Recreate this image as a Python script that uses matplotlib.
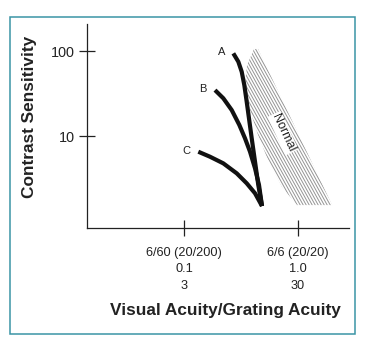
import numpy as np
import matplotlib
matplotlib.use('Agg')
import matplotlib.pyplot as plt
from matplotlib.patches import Polygon, Rectangle
from matplotlib.collections import LineCollection
from matplotlib.ticker import NullLocator
from matplotlib.transforms import IdentityTransform

plt.rcParams['font.family'] = ['Liberation Sans', 'DejaVu Sans']

# curves (acuity, contrast sensitivity)
acuity_a = [0.2707, 0.2995, 0.3207, 0.3380, 0.3548, 0.3716, 0.3925, 0.4196, 0.4484, 0.4832]
sens_a = [93.9, 74.9, 57.1, 39.8, 25.3, 16.1, 9.40, 4.99, 2.65, 1.50]
acuity_b = [0.1870, 0.2212, 0.2621, 0.3056, 0.3428, 0.3793, 0.4196, 0.4549, 0.4832]
sens_b = [34.7, 27.8, 20.2, 13.5, 9.40, 6.54, 4.17, 2.65, 1.50]
acuity_c = [0.1335, 0.1690, 0.2212, 0.2900, 0.3548, 0.4196, 0.4832]
sens_c = [6.54, 5.71, 4.77, 3.64, 2.78, 2.12, 1.50]

# shaded "normal" band
normal_acuity = [0.411, 0.446, 1.99, 0.98, 0.724, 0.546, 0.446, 0.379, 0.343, 0.357]
normal_sens = [105.7, 105.7, 1.54, 1.54, 2.51, 5.22, 10.3, 20.2, 39.8, 68.4]

xtick_vals = [0.1, 1.0]
xtick_labels = ['6/60 (20/200)\n0.1\n3', '6/6 (20/20)\n1.0\n30']
ytick_vals = [10, 100]
ytick_labels = ['10', '100']

fig = plt.figure(figsize=(3.68, 3.40), dpi=100)
ax = fig.add_axes([87/368, 112/340, 262/368, 204/340])
ax.set_xscale('log')
ax.set_yscale('log')
ax.set_xlim(0.0141, 2.80)
ax.set_ylim(0.828, 208)

ax.set_xticks(xtick_vals)
ax.set_xticklabels(xtick_labels, fontsize=9.2, linespacing=1.52)
ax.set_yticks(ytick_vals)
ax.set_yticklabels(ytick_labels, fontsize=10.4)
ax.xaxis.set_minor_locator(NullLocator())
ax.yaxis.set_minor_locator(NullLocator())
ax.tick_params(axis='x', direction='inout', length=12, width=0.9, pad=7.5, colors='#222')
ax.tick_params(axis='y', direction='inout', length=11.5, width=0.9, pad=3, colors='#222')
for s in ['top', 'right']:
    ax.spines[s].set_visible(False)
for s in ['left', 'bottom']:
    ax.spines[s].set_linewidth(0.9)
    ax.spines[s].set_color('#222')

# normal band with steep hatch lines
pts = np.column_stack([normal_acuity, normal_sens])
band = Polygon(pts, closed=True, fc='none', ec='none', transform=ax.transData)
ax.add_patch(band)
disp = ax.transData.transform(pts)
x0, y0 = disp.min(axis=0) - 5
x1, y1 = disp.max(axis=0) + 5
k = 1.8
segs = []
for xs in np.arange(x0 - (y1 - y0) / k, x1, 3.0):
    segs.append([(xs, y1), (xs + (y1 - y0) / k, y0)])
hatch = LineCollection(segs, colors='#959595', linewidths=0.7,
                       transform=IdentityTransform(), zorder=1)
ax.add_collection(hatch)
hatch.set_clip_path(band)

for xs_, ys_, lab in [(acuity_a, sens_a, 'A'), (acuity_b, sens_b, 'B'), (acuity_c, sens_c, 'C')]:
    ax.plot(xs_, ys_, color='#111', lw=3, solid_capstyle='butt', solid_joinstyle='round', zorder=3)
    ax.annotate(lab, (xs_[0], ys_[0]), xytext=(-12, 1), textcoords='offset pixels',
                ha='center', va='center', fontsize=8, color='#222')

ax.text(0.738, 10.8, 'Normal', rotation=-65, rotation_mode='anchor', ha='center', va='center',
        fontsize=9, color='#222', zorder=4,
        bbox=dict(fc='white', ec='none', pad=0.8))

fig.text(30/368, 1 - 117/340, 'Contrast Sensitivity', rotation=90, ha='center', va='center',
         fontsize=12.4, fontweight='bold', color='#222')
fig.text(225/368, 1 - 311/340, 'Visual Acuity/Grating Acuity', ha='center', va='center',
         fontsize=12.4, fontweight='bold', color='#222')

fig.add_artist(Rectangle((10/368, 1 - 334/340), 345/368, 317/340, transform=fig.transFigure,
                         fill=False, ec='#3a95a5', lw=1.1))

fig.savefig('out.png', dpi=100)
